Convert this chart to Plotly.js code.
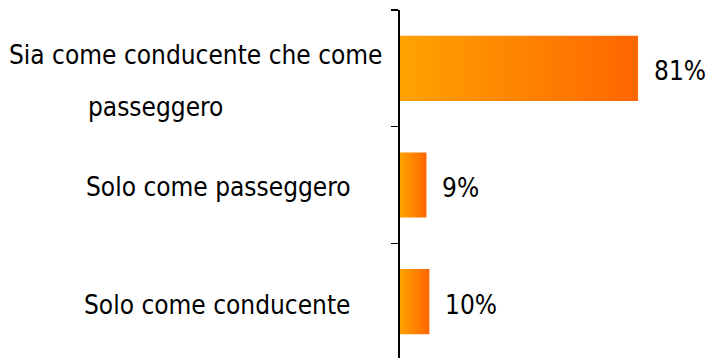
<!DOCTYPE html>
<html>
<head>
<meta charset="utf-8">
<script src="https://cdn.plot.ly/plotly-3.0.1.min.js"></script>
<style>
  html, body { margin: 0; padding: 0; background: #ffffff; overflow: hidden; }
  #chart { width: 711px; height: 358px; }
</style>
</head>
<body>
<div id="chart"></div>
<script>
// ---- data ----
const categories = ["Sia come conducente che come passeggero", "Solo come passeggero", "Solo come conducente"];
const values = [81, 9, 10];
const valueLabels = ["81%", "9%", "10%"];
const labelLines = [["Sia come conducente che come", "passeggero"], ["Solo come passeggero"], ["Solo come conducente"]];

// ---- style ----
const FONT = "DejaVu Sans Condensed, DejaVu Sans, sans-serif";
const FS = 26;
const HALF = 0.279; // half bar thickness in category units
const gradient = { type: "horizontal", colorscale: [[0, "#FFA200"], [1, "#FF6600"]] };

const traces = categories.map((c, i) => ({
  type: "scatter",
  mode: "none",
  x: [0, values[i], values[i], 0, 0],
  y: [i - HALF, i - HALF, i + HALF, i + HALF, i - HALF],
  fill: "toself",
  fillcolor: "#FF8400",
  fillgradient: gradient,
  hoverinfo: "skip",
  showlegend: false,
  name: c
}));

const labelShift = [0, -2, -3];
const annotations = [];
labelLines.forEach((lines, i) => {
  if (lines.length === 1) {
    annotations.push({
      text: lines[0], xref: "paper", yref: "y", x: 0, y: i,
      xanchor: "right", yanchor: "middle", xshift: -48, yshift: labelShift[i],
      showarrow: false, borderpad: 0, font: { family: FONT, size: FS, color: "#000" }
    });
  } else {
    annotations.push({
      text: lines[0], xref: "paper", yref: "y", x: 0, y: i,
      xanchor: "right", yanchor: "middle", xshift: -16, yshift: 13,
      showarrow: false, borderpad: 0, font: { family: FONT, size: FS, color: "#000" }
    });
    annotations.push({
      text: lines[1], xref: "paper", yref: "y", x: 0, y: i,
      xanchor: "left", yanchor: "middle", xshift: -313, yshift: -39,
      showarrow: false, borderpad: 0, font: { family: FONT, size: FS, color: "#000" }
    });
  }
});
values.forEach((v, i) => {
  annotations.push({
    text: valueLabels[i], xref: "x", yref: "y", x: v, y: i,
    xanchor: "left", yanchor: "middle", xshift: 15, yshift: -3,
    showarrow: false, borderpad: 0, font: { family: FONT, size: FS, color: "#000" }
  });
});

const layout = {
  width: 711, height: 358,
  margin: { l: 400, r: 0, t: 10, b: 0, pad: 0 },
  paper_bgcolor: "#ffffff", plot_bgcolor: "#ffffff",
  showlegend: false,
  xaxis: {
    range: [0, 105.85], showgrid: false, zeroline: false, showline: false,
    showticklabels: false, ticks: "", fixedrange: true
  },
  yaxis: {
    range: [2.483, -0.5], showgrid: false, zeroline: false,
    showline: true, linecolor: "#000", linewidth: 2,
    tickmode: "array", tickvals: [-0.5, 0.5, 1.5, 2.5], ticktext: ["", "", "", ""],
    ticks: "outside", ticklen: 7, tickwidth: 1.5, tickcolor: "#000",
    showticklabels: false, fixedrange: true
  },
  annotations: annotations
};

Plotly.newPlot("chart", traces, layout, { staticPlot: true, displayModeBar: false });
</script>
</body>
</html>
